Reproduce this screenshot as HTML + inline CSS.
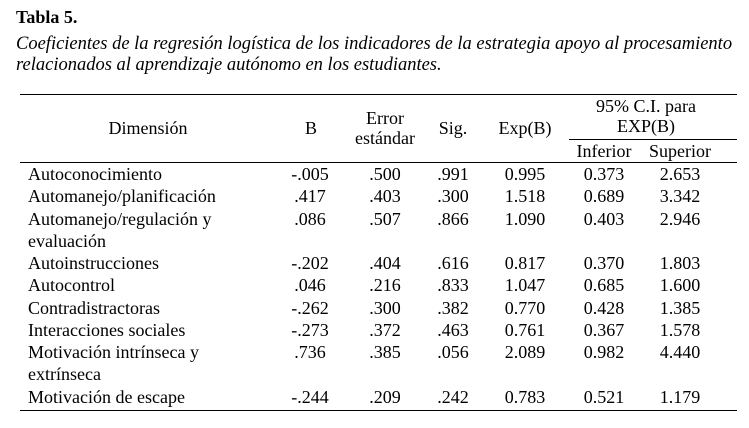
<!DOCTYPE html>
<html><head><meta charset="utf-8"><style>
body{margin:0;width:749px;height:428px;background:#fff;font-family:"Liberation Serif",serif;color:#000;position:relative;overflow:hidden}
.t{position:absolute;font-size:18px;white-space:nowrap;line-height:1}
.c{transform:translateX(-50%)}
.l{position:absolute;background:#000;height:1px}
</style></head><body>
<div class="t" style="left:16px;top:8px;font-weight:bold;font-size:18px">Tabla 5.</div>
<div class="t" style="left:16px;top:34px;font-style:italic;font-size:18.5px;line-height:21px">Coeficientes de la regresión logística de los indicadores de la estrategia apoyo al procesamiento<br>relacionados al aprendizaje autónomo en los estudiantes.</div>
<div class="l" style="left:20px;width:717px;top:94px"></div>
<div class="l" style="left:569px;width:168px;top:139px"></div>
<div class="l" style="left:20px;width:717px;top:162px"></div>
<div class="l" style="left:20px;width:717px;top:410px"></div>
<div id="tbl"></div>
<script>
const hdr=[["Dimensión",148,119],["B",311,119],["Error",385,109],["estándar",385,129],["Sig.",453,119],["Exp(B)",525,119],["95% C.I. para",646,97],["EXP(B)",646,117],["Inferior",604,142],["Superior",680,142]];
const names=["Autoconocimiento","Automanejo/planificación","Automanejo/regulación y|evaluación","Autoinstrucciones","Autocontrol","Contradistractoras","Interacciones sociales","Motivación intrínseca y|extrínseca","Motivación de escape"];
const colB=["-.005",".417",".086","-.202",".046","-.262","-.273",".736","-.244"];
const colErr=[".500",".403",".507",".404",".216",".300",".372",".385",".209"];
const colSig=[".991",".300",".866",".616",".833",".382",".463",".056",".242"];
const colExp=["0.995","1.518","1.090","0.817","1.047","0.770","0.761","2.089","0.783"];
const colInf=["0.373","0.689","0.403","0.370","0.685","0.428","0.367","0.982","0.521"];
const colSup=["2.653","3.342","2.946","1.803","1.600","1.385","1.578","4.440","1.179"];
const tbl=document.getElementById('tbl');
function add(txt,x,y,center,name){const d=document.createElement('div');d.className='t'+(center?' c':'');d.style.left=x+'px';d.style.top=y+'px';d.textContent=txt;


tbl.appendChild(d);}
hdr.forEach(h=>add(h[0],h[1],h[2],true,'column-header'));
const cols=[colB,colErr,colSig,colExp,colInf,colSup];const cx=[310,385,453,525,604,680];
let y=165;
names.forEach((n,i)=>{const parts=n.split('|');
add(parts[0],28,y,false,'row-label');
if(parts[1])add(parts[1],28,y+22,false,'row-label');
cols.forEach((c,j)=>add(c[i],cx[j],y,true,'cell-value'));
y+=parts[1]?44.5:22.3;});
</script>
</body></html>
